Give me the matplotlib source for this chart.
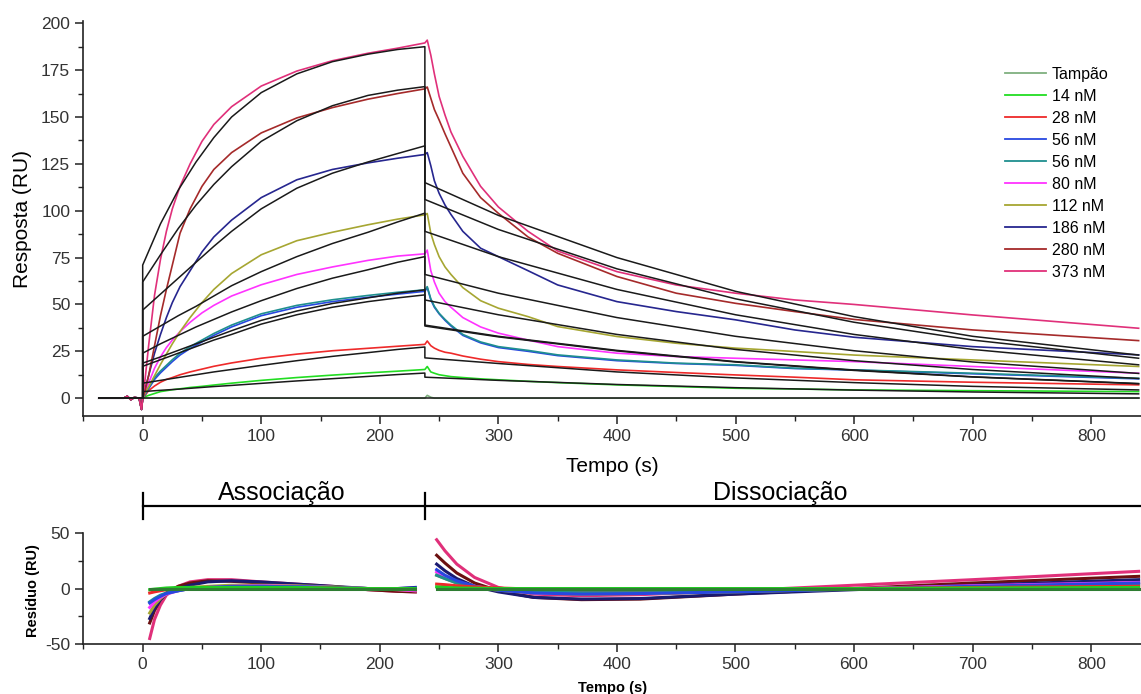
import matplotlib
matplotlib.use("Agg")
import matplotlib.pyplot as plt
from matplotlib.ticker import MultipleLocator
from matplotlib.transforms import blended_transform_factory

plt.rcParams['font.family'] = ['Liberation Sans', 'DejaVu Sans']
plt.rcParams['axes.unicode_minus'] = False

# ---------------- series ----------------
series_labels = ["Tampão", "14 nM", "28 nM", "56 nM", "56 nM",
                 "80 nM", "112 nM", "186 nM", "280 nM", "373 nM"]
series_colors = ["#7fb07f", "#22dd22", "#ee2a2a", "#2848e0", "#1f8f8f",
                 "#ff33ff", "#a6a632", "#26268f", "#a52a2a", "#e0307a"]

# baseline before injection (s, RU)
baseline_t = [-37, -16, -13, -10, -7, -3, -1]
baseline_ru = [0, 0, 1.0, -0.8, 0.4, 0, -6]

# sensorgram: association phase
t_assoc = [0, 2, 5, 10, 15, 20, 25, 31.5, 40, 50, 60, 75, 100, 130, 160, 190, 215, 238]
assoc_buffer = [0, 0, 0, 0, 0, 0, 0, 0, 0, 0, 0, 0, 0, 0, 0, 0, 0, 0]
assoc_14 = [0, 0.8, 1.5, 2.5, 3.5, 4, 4.5, 5, 5.7, 6.3, 7, 8, 9.5, 11, 12.3, 13.5, 14.4, 15.3]
assoc_28 = [0, 1.5, 4, 6.5, 8.5, 10, 11, 12.5, 14, 15.5, 17, 18.8, 21.3, 23.5, 25.3, 26.6, 27.7, 28.7]
assoc_56a = [0, 2, 5, 10, 13.5, 16.5, 19.5, 23, 26.5, 30, 33.5, 38, 44, 48.5, 51.5, 53.8, 55.5, 57]
assoc_56b = [0, 2, 5.5, 11, 14.5, 17.5, 20.5, 24, 27.5, 31, 34.5, 39, 45, 49.5, 52.5, 54.8, 56.5, 57.8]
assoc_80 = [0, 3, 8, 16, 22, 27, 31, 35.5, 40.5, 45.5, 49.5, 54.5, 60.5, 66, 70, 73.5, 75.8, 77]
assoc_112 = [0, 3, 6, 12, 18, 23.5, 29, 35.5, 43, 51, 58, 66.5, 76.5, 84, 88.5, 92.5, 95.5, 97.8]
assoc_186 = [0, 5, 12, 24, 34, 43, 51, 59.5, 68, 78, 86, 95, 107, 116.5, 122, 125.5, 128, 130]
assoc_280 = [0, 4, 12, 28, 44, 58, 71, 88, 101, 113, 122, 131, 141.5, 149.5, 155, 159.5, 162.5, 165]
assoc_373 = [0, 10, 28, 55, 74, 89, 101, 113, 125, 137, 146, 155.5, 166.5, 174.5, 180, 184, 186.7, 189.5]

# sensorgram: dissociation phase
t_dissoc = [240, 243, 246, 250, 255, 260, 270, 285, 300, 325, 350, 400, 450, 500, 550, 600, 700, 840]
dissoc_buffer = [1.5, 0.5, 0, 0, 0, 0, 0, 0, 0, 0, 0, 0, 0, 0, 0, 0, 0, 0]
dissoc_14 = [16.9, 14, 13.3, 12.5, 12, 11.5, 11, 10.3, 9.8, 9, 8.3, 7.1, 6.2, 5.3, 4.9, 4.4, 4, 3.5]
dissoc_28 = [30.5, 28, 26.7, 25.5, 24.5, 24, 22.5, 20.8, 19.5, 18, 16.9, 15.1, 13.7, 12.4, 11.2, 9.8, 8.5, 7.1]
dissoc_56a = [59, 52.5, 48.5, 45, 41.5, 38.5, 33.5, 29.5, 27, 25, 22.7, 20, 18.5, 17.5, 15.8, 15, 13, 10.3]
dissoc_56b = [59.5, 53, 49, 45.3, 42, 39, 34, 30, 27.5, 25.5, 23.1, 20.4, 18.7, 17.8, 16, 15.1, 13.3, 10.6]
dissoc_80 = [79, 68, 62, 56, 51.5, 48.5, 43, 38, 34.7, 31, 27.5, 24, 22.2, 21.3, 20.4, 19.5, 16.9, 13.3]
dissoc_112 = [98.5, 88, 82, 75.5, 70, 66, 59, 52, 48, 43.5, 38.2, 32.9, 29.3, 26.7, 24.9, 23, 20.4, 16.9]
dissoc_186 = [131, 124, 116, 109.3, 103, 98, 89, 80, 75.5, 68, 60.4, 51.5, 46.2, 41.8, 36.4, 32.5, 27.5, 23.1]
dissoc_280 = [166, 160, 154, 148.4, 141, 134, 120, 107, 98.6, 86, 77.3, 64.9, 56, 50.6, 46.2, 42, 36.4, 30.7]
dissoc_373 = [191, 183, 173, 161, 151, 142, 129, 113, 102, 89, 78.5, 67.5, 60.4, 56, 52.4, 50, 44.4, 37.3]

resp_assoc = [assoc_buffer, assoc_14, assoc_28, assoc_56a, assoc_56b,
              assoc_80, assoc_112, assoc_186, assoc_280, assoc_373]
resp_dissoc = [dissoc_buffer, dissoc_14, dissoc_28, dissoc_56a, dissoc_56b,
               dissoc_80, dissoc_112, dissoc_186, dissoc_280, dissoc_373]

# fitted curves
fit_base_t = [-37, 0]
fit_base_ru = [0, 0]
fit_t_assoc = [0, 15, 30, 45, 60, 75, 100, 130, 160, 190, 215, 238]
fit_assoc_buffer = [0, 0, 0, 0, 0, 0, 0, 0, 0, 0, 0, 0]
fit_assoc_14 = [3.5, 4.2, 4.8, 5.5, 6.2, 6.8, 7.9, 9.2, 10.4, 11.6, 12.6, 13.4]
fit_assoc_28 = [8, 9.5, 11, 12.5, 14, 15.3, 17.5, 20, 22.3, 24.3, 26, 27.3]
fit_assoc_56a = [17, 20.5, 24, 27.5, 31, 34, 39.5, 44.5, 48.5, 51.5, 53.5, 55.1]
fit_assoc_56b = [18.7, 22, 25.5, 29, 32.5, 36, 41.5, 46.5, 50.5, 53.5, 56, 57.8]
fit_assoc_80 = [24, 29, 33.5, 38, 42, 46, 52, 58.5, 64, 68.5, 72.5, 75.5]
fit_assoc_112 = [33, 38.5, 44, 49, 54.5, 60, 67.5, 75.5, 82.5, 88.5, 94, 98.7]
fit_assoc_186 = [47, 55.5, 64, 72.5, 81, 89, 101, 112, 120, 126, 130.5, 134.6]
fit_assoc_280 = [62, 76.5, 90.5, 103, 114, 123.5, 137, 148, 156, 161.5, 164.3, 166.2]
fit_assoc_373 = [71, 93, 111, 126, 139, 150, 163, 173, 179.5, 183.5, 186, 187.5]

fit_t_dissoc = [238, 300, 400, 500, 600, 700, 840]
fit_dissoc_buffer = [0, 0, 0, 0, 0, 0, 0]
fit_dissoc_14 = [11.2, 9.5, 7.3, 5.6, 4.3, 3.3, 2.3]
fit_dissoc_28 = [21.5, 18.5, 14, 10.8, 8.3, 6.3, 4.4]
fit_dissoc_56a = [38.5, 32.7, 25.2, 19.3, 14.8, 11.3, 7.7]
fit_dissoc_56b = [39, 33, 25.5, 19.5, 15, 11.4, 7.8]
fit_dissoc_80 = [52.4, 44.5, 34, 26, 20, 15.3, 10.5]
fit_dissoc_112 = [66, 56, 43, 33, 25.3, 19.3, 13.2]
fit_dissoc_186 = [89, 75.5, 58, 44.5, 34, 26, 17.8]
fit_dissoc_280 = [106, 90, 69, 53, 40.5, 31, 21.3]
fit_dissoc_373 = [115, 97.5, 75, 57, 43.5, 33, 23]

fit_assoc = [fit_assoc_buffer, fit_assoc_14, fit_assoc_28, fit_assoc_56a, fit_assoc_56b,
             fit_assoc_80, fit_assoc_112, fit_assoc_186, fit_assoc_280, fit_assoc_373]
fit_dissoc = [fit_dissoc_buffer, fit_dissoc_14, fit_dissoc_28, fit_dissoc_56a, fit_dissoc_56b,
              fit_dissoc_80, fit_dissoc_112, fit_dissoc_186, fit_dissoc_280, fit_dissoc_373]

# residuals (data - fit)
res_t_assoc = [6, 10, 15, 20, 30, 40, 55, 75, 100, 130, 160, 190, 215, 230]
res_assoc_buffer = [0, 0, 0, 0, 0, 0, 0, 0, 0, 0, 0, 0, 0, 0]
res_assoc_14 = [-1, -0.5, 0, 0.5, 1, 1, 1, 1, 1, 1, 0.5, 0, 0, 0]
res_assoc_28 = [-4, -3, -2, -1, 0, 0.5, 1, 1, 1, 1, 0.5, 0, -0.5, -1]
res_assoc_56a = [-13, -10, -7, -4.5, -2, 0, 1, 2, 2, 1.5, 1, 0, 0, 0.5]
res_assoc_56b = [-12, -9, -6, -4, -2, 0, 1, 1.5, 2, 1.5, 1, 0, -0.5, -1]
res_assoc_80 = [-17, -12, -8, -5, -2, 0, 1, 2, 2.5, 2, 1, 0, -1, -2]
res_assoc_112 = [-22, -15, -9, -5, -1, 1, 2, 3, 3, 2.5, 1.5, 0, -1, -2]
res_assoc_186 = [-27, -18, -10, -5, 0, 3, 6, 7, 6, 4, 2, 0, 0, 1]
res_assoc_280 = [-31, -20, -10, -4, 2, 5, 7, 6.5, 5, 3.5, 1.5, -1, -2.5, -3]
res_assoc_373 = [-45, -28, -15, -6, 2, 6, 8, 8, 6, 4, 2, -1, -2.5, -3]

res_t_dissoc = [248, 255, 265, 280, 300, 330, 370, 420, 500, 600, 700, 840]
res_dissoc_buffer = [0, 0, 0, 0, 0, 0, 0, 0, 0, 0, 0, 0]
res_dissoc_14 = [1.5, 1, 0.5, 0.3, 0, 0, 0, 0, 0, 0, 0.5, 1]
res_dissoc_28 = [4, 3.5, 2.5, 1.5, 0.5, -0.5, -1, -1, -0.5, 0, 1, 2]
res_dissoc_56a = [17, 12, 7, 2, -1.5, -4, -5, -4.5, -3, -0.5, 2, 5]
res_dissoc_56b = [12, 9, 5, 1.5, -1, -3, -3.5, -3, -2, -0.5, 1.5, 3.5]
res_dissoc_80 = [15, 11, 6, 2, -1, -4, -4.5, -4, -2, 0, 2.5, 5.5]
res_dissoc_112 = [12, 9, 5, 1, -1.5, -4, -5, -4.5, -3, -0.5, 2, 5]
res_dissoc_186 = [22, 16, 9, 2, -3, -8, -9.5, -9, -5, -1, 3, 8]
res_dissoc_280 = [30, 23, 14, 5, -2, -8, -10, -9.5, -5, 0, 5, 11]
res_dissoc_373 = [44, 34, 22, 10, 1, -5, -6.5, -5.5, -2, 3, 8, 15.5]

res_assoc = [res_assoc_buffer, res_assoc_14, res_assoc_28, res_assoc_56a, res_assoc_56b,
             res_assoc_80, res_assoc_112, res_assoc_186, res_assoc_280, res_assoc_373]
res_dissoc = [res_dissoc_buffer, res_dissoc_14, res_dissoc_28, res_dissoc_56a, res_dissoc_56b,
              res_dissoc_80, res_dissoc_112, res_dissoc_186, res_dissoc_280, res_dissoc_373]
res_colors = ["#2e7d32", "#22cc22", "#ee2a2a", "#2848e0", "#1f8f8f",
              "#ff33ff", "#a6a632", "#1a1a70", "#6b1010", "#e0307a"]

phase_labels = ["Associação", "Dissociação"]
injection_start, injection_end = 0, 238.5

# ---------------- figure ----------------
fig = plt.figure(figsize=(11.41, 6.94), dpi=100)
ax = fig.add_axes([0.0731, 0.4006, 0.9269, 0.5686])
ax2 = fig.add_axes([0.0730, 0.0720, 0.9270, 0.1607])

# sensorgram traces
for lab, col, ra, rd in zip(series_labels, series_colors, resp_assoc, resp_dissoc):
    t = baseline_t + t_assoc + t_dissoc
    r = baseline_ru + ra + rd
    ax.plot(t, r, color=col, lw=1.2, label=lab, zorder=2)

# fitted curves
for fa, fd in zip(fit_assoc, fit_dissoc):
    t = fit_base_t + fit_t_assoc + fit_t_dissoc
    r = fit_base_ru + fa + fd
    ax.plot(t, r, color="#1a1a1a", lw=1.1, zorder=3)

ax.set_xlim(-50, 842)
ax.set_ylim(-9.5, 201)
ax.xaxis.set_major_locator(MultipleLocator(100))
ax.xaxis.set_minor_locator(MultipleLocator(50))
ax.yaxis.set_major_locator(MultipleLocator(25))
ax.yaxis.set_minor_locator(MultipleLocator(12.5))
for s in ("top", "right"):
    ax.spines[s].set_visible(False)
for s in ("left", "bottom"):
    ax.spines[s].set_linewidth(1.2)
    ax.spines[s].set_color("#222222")
ax.tick_params(which="major", direction="out", length=6, width=1.1,
               labelsize=12.5, labelcolor="#333333", color="#222222")
ax.tick_params(which="minor", direction="out", length=3.5, width=1.0, color="#222222")
ax.set_xlabel("Tempo (s)", fontsize=15)
ax.set_ylabel("Resposta (RU)", fontsize=15)
ax.xaxis.set_label_coords(0.5, -0.105)
ax.yaxis.set_label_coords(-0.049, 0.5)

leg = ax.legend(loc="upper left", bbox_to_anchor=(0.871, 0.885), frameon=False,
                fontsize=11.5, handlelength=2.6, handletextpad=0.35,
                labelspacing=0.44, borderpad=0, borderaxespad=0)
for h in leg.get_lines():
    h.set_linewidth(1.3)

# residual panel
order = list(range(len(series_labels)))[::-1]
for i in order:
    ax2.plot(res_t_assoc, res_assoc[i], color=res_colors[i], lw=2.2, zorder=2)
    ax2.plot(res_t_dissoc, res_dissoc[i], color=res_colors[i], lw=2.2, zorder=2)

ax2.set_xlim(-50, 842)
ax2.set_ylim(-50, 50.5)
ax2.xaxis.set_major_locator(MultipleLocator(100))
ax2.xaxis.set_minor_locator(MultipleLocator(50))
ax2.yaxis.set_major_locator(MultipleLocator(50))
ax2.yaxis.set_minor_locator(MultipleLocator(25))
for s in ("top", "right"):
    ax2.spines[s].set_visible(False)
for s in ("left", "bottom"):
    ax2.spines[s].set_linewidth(1.2)
    ax2.spines[s].set_color("#222222")
ax2.tick_params(which="major", direction="out", length=6, width=1.1,
                labelsize=12.5, labelcolor="#333333", color="#222222")
ax2.tick_params(which="minor", direction="out", length=3.5, width=1.0, color="#222222")
ax2.set_xlabel("Tempo (s)", fontsize=10.5, fontweight="bold")
ax2.set_ylabel("Resíduo (RU)", fontsize=10.5, fontweight="bold")
ax2.xaxis.set_label_coords(0.5, -0.335)
ax2.yaxis.set_label_coords(-0.041, 0.48)

# phase annotations between the panels
tr = blended_transform_factory(ax2.transData, fig.transFigure)
bar_y = 1 - 506 / 694
tick_lo, tick_hi = 1 - 519 / 694, 1 - 493 / 694
ax2.plot([injection_start, 842], [bar_y, bar_y], color="black", lw=1.6,
         transform=tr, clip_on=False)
for tx in (injection_start, injection_end):
    ax2.plot([tx, tx], [tick_lo, tick_hi], color="black", lw=1.6,
             transform=tr, clip_on=False)
ax2.text(117, 1 - 493 / 694, phase_labels[0], transform=tr, ha="center",
         va="center", fontsize=18)
ax2.text(538, 1 - 493 / 694, phase_labels[1], transform=tr, ha="center",
         va="center", fontsize=18)

fig.savefig("out.png", dpi=100)
